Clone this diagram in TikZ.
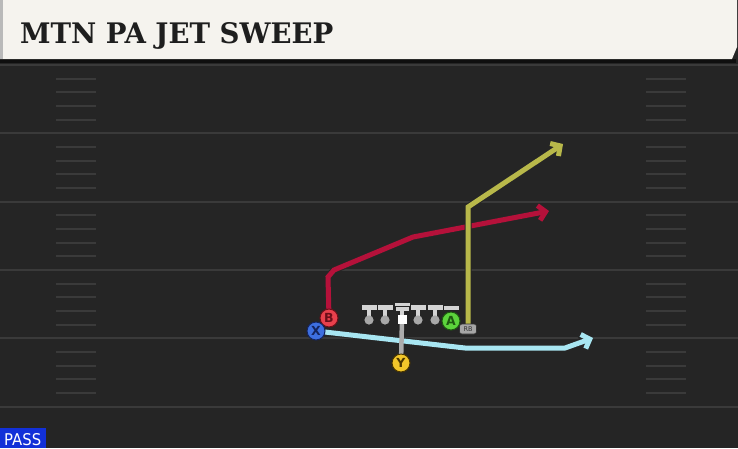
\documentclass[tikz,border=0pt]{standalone}
\usepackage{fontspec}
\usepackage{pdfrender}
\setmainfont{DejaVu Sans}
\newfontfamily\titlefont{DejaVu Serif Condensed Bold}
\usetikzlibrary{arrows.meta}
\definecolor{fieldc}{HTML}{252525}
\definecolor{yardc}{HTML}{3A3A3A}
\definecolor{hdrc}{HTML}{F5F3EE}
\definecolor{titlec}{HTML}{1E1E1E}
\definecolor{passc}{HTML}{1230D8}
\definecolor{redr}{HTML}{B5113A}
\definecolor{yelr}{HTML}{B8B84A}
\definecolor{cyanr}{HTML}{A8E6F2}
\definecolor{xfill}{HTML}{3D6FE0}\definecolor{xdark}{HTML}{14245E}
\definecolor{bfill}{HTML}{E8404C}\definecolor{bdark}{HTML}{6A0E18}
\definecolor{afill}{HTML}{5CD43C}\definecolor{adark}{HTML}{1E5A10}
\definecolor{yfill}{HTML}{F2C62A}\definecolor{ydark}{HTML}{4A3600}
\definecolor{lmbar}{HTML}{D4D4D4}
\definecolor{lmbulb}{HTML}{A8A8A8}
\pgfdeclarelayer{field}
\pgfdeclarelayer{routes}
\pgfdeclarelayer{stems}
\pgfsetlayers{field,routes,stems,main}
\begin{document}
\begin{tikzpicture}[x=1pt,y=-1pt,
  player/.style={circle,minimum size=18pt,inner sep=0pt,line width=1pt,
    font=\fontsize{12.5}{12.5}\selectfont\bfseries},
  yard/.style={yardc,line width=2pt},
  hash/.style={yardc,line width=2pt},
  routeout/.style={black!85,line width=7pt,line join=miter,
    -{Straight Barb[length=7pt,width=15pt]}},
  routein/.style={line width=5pt,line join=miter,
    -{Straight Barb[length=7pt,width=15pt]}},
  snap/.style={draw=gray!65,line width=4.5pt},
  rbtag/.style={fill=gray!70,draw=gray!40!black,line width=0.6pt,rounded corners=2.5pt,
    minimum width=17pt,minimum height=10pt,inner sep=0pt,
    font=\fontsize{6.5}{6.5}\selectfont,text=black!80}]
\useasboundingbox (0,0) rectangle (738,448);
\begin{pgfonlayer}{field}
\fill[fieldc] (0,0) rectangle (738,448);
\foreach \k in {0,...,5}{
  \pgfmathsetmacro{\yy}{65+68.3*\k}
  \draw[yard] (0,\yy) -- (738,\yy);
  \ifnum\k<5
  \foreach \j in {1,...,4}{
    \pgfmathsetmacro{\hy}{\yy+13.66*\j}
    \draw[hash] (56,\hy) -- (96,\hy);
    \draw[hash] (646,\hy) -- (686,\hy);
  }\fi
}
\fill[black!60!fieldc] (0,59) rectangle (736,63);
\fill[hdrc] (0,0) -- (737,0) -- (737,47) -- (732,59) -- (0,59) -- cycle;
\fill[gray!55] (0,0) rectangle (3,59);
\end{pgfonlayer}
\node[anchor=base west,inner sep=0pt,text=titlec] (title) at (20,43)
  {\resizebox{313pt}{21pt}{\textpdfrender{TextRenderingMode=FillStroke,LineWidth=0.9pt,StrokeColor=titlec}{\titlefont MTN PA JET SWEEP}}};
\node[anchor=south west,fill=passc,minimum width=46pt,minimum height=20pt,inner sep=0pt] (pass) at (0,448) {};
\node[anchor=base west,inner sep=0pt,text=white] (passt) at (4,445)
  {\resizebox{37pt}{12pt}{PASS}};
% linemen
\foreach \lx in {369,385,418,435}{
  \fill[lmbar] (\lx-7.5,305) rectangle (\lx+7.5,309.5);
  \fill[lmbar] (\lx-2.2,309) rectangle (\lx+2.2,318);
  \fill[lmbulb] (\lx,320) circle (4.6);
}
\fill[lmbar] (394.5,302.5) rectangle (409.5,306);
\fill[lmbar] (395.5,307) rectangle (408.5,310.5);
\fill[lmbar] (399.8,310) rectangle (404.2,316);
\fill[lmbar] (444,305.5) rectangle (459,309.5);
\node[fill=white,minimum size=9pt,inner sep=0pt] (C) at (402,319.5) {};
% players
\node[player,fill=bfill,draw=bdark,text=bdark] (B) at (329,318) {B};
\node[player,fill=xfill,draw=xdark,text=xdark] (X) at (316,331) {X};
\node[player,fill=afill,draw=adark,text=adark] (A) at (451,321) {A};
\node[player,fill=yfill,draw=ydark,text=ydark] (Y) at (401,363) {Y};
\node[rbtag] (RB) at (468,329) {RB};
% route points
\coordinate (r1) at (328,277);
\coordinate (r2) at (334,270);
\coordinate (r3) at (413,237);
\coordinate (r4) at (549,211);
\coordinate (y1) at (468,207);
\coordinate (y2) at (563,144);
\coordinate (c1) at (465,348);
\coordinate (c2) at (565,348);
\coordinate (c3) at (593,338);
\begin{pgfonlayer}{routes}
\draw[routeout] (B.center) -- (r1) -- (r2) -- (r3) -- (r4);
\draw[routein,redr] (B.center) -- (r1) -- (r2) -- (r3) -- (r4);
\draw[routeout] (RB.center) -- (y1) -- (y2);
\draw[routein,yelr] (RB.center) -- (y1) -- (y2);
\draw[routeout] (X.center) -- (c1) -- (c2) -- (c3);
\draw[routein,cyanr] (X.center) -- (c1) -- (c2) -- (c3);
\end{pgfonlayer}
\begin{pgfonlayer}{stems}
\draw[snap] (C.center) -- (Y.center);
\end{pgfonlayer}
\end{tikzpicture}
\end{document}
